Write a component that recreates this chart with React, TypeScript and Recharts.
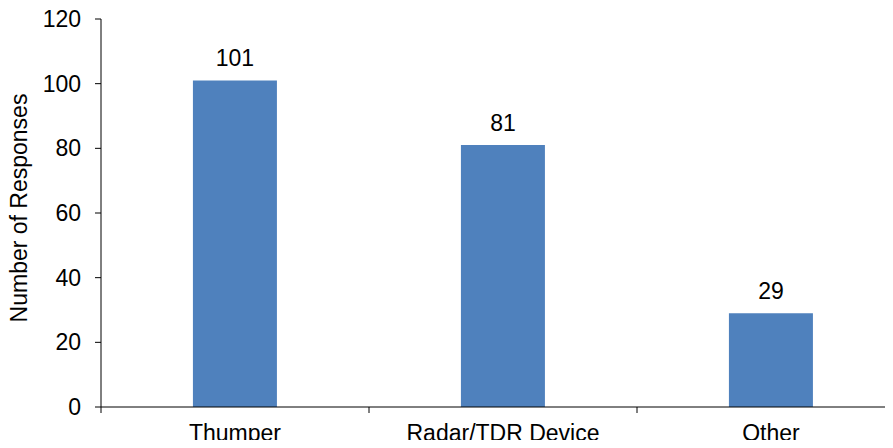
import React from 'react';
import { BarChart, Bar, XAxis, YAxis, LabelList } from 'recharts';

const categories = ['Thumper', 'Radar/TDR Device', 'Other'];
const responses = [101, 81, 29];
const yTicks = [0, 20, 40, 60, 80, 100, 120];

const data = categories.map((name, i) => ({ name, value: responses[i] }));

const font = "'Liberation Sans', Arial, sans-serif";
const textStyle = { fontSize: 23, fill: '#000', fontFamily: font };
const X_TICK_SIZE = 6;
const X_TICK_MARGIN = 12;

// category label plus tick marks on the band edges (Excel style)
const CategoryTick = (props: any) => {
  const { x, y, payload, index } = props;
  const half = payload.offset || 0;
  const axisY = y - X_TICK_SIZE - X_TICK_MARGIN;
  const last = index === categories.length - 1;
  return (
    <g>
      <line x1={x - half} x2={x - half} y1={axisY} y2={axisY + X_TICK_SIZE} stroke="#000" />
      {last && (
        <line x1={x + half} x2={x + half} y1={axisY} y2={axisY + X_TICK_SIZE} stroke="#000" />
      )}
      <text x={x} y={y} dy="0.71em" textAnchor="middle" {...textStyle}>
        {payload.value}
      </text>
    </g>
  );
};

const App: React.FC = () => {
  return (
    <div style={{ margin: -8, width: 893, height: 448, overflow: 'hidden' }}>
      <BarChart
        width={920}
        height={448}
        data={data}
        margin={{ top: 19, right: 15, left: 0, bottom: 0 }}
        barCategoryGap="34.3%"
      >
        <XAxis
          dataKey="name"
          height={41}
          axisLine={{ stroke: '#000' }}
          tickLine={false}
          tickSize={X_TICK_SIZE}
          tickMargin={X_TICK_MARGIN}
          tick={<CategoryTick />}
          interval={0}
        />
        <YAxis
          width={101}
          domain={[0, 120]}
          ticks={yTicks}
          tickSize={6}
          tickMargin={14}
          tick={textStyle}
          axisLine={{ stroke: '#000' }}
          tickLine={{ stroke: '#000' }}
          label={{
            value: 'Number of Responses',
            angle: -90,
            position: 'insideLeft',
            offset: 19,
            dy: -5,
            style: { ...textStyle, textAnchor: 'middle' },
          }}
        />
        <Bar dataKey="value" fill="#4F81BD" isAnimationActive={false}>
          <LabelList dataKey="value" position="top" offset={14} style={textStyle} />
        </Bar>
      </BarChart>
    </div>
  );
};

export default App;
